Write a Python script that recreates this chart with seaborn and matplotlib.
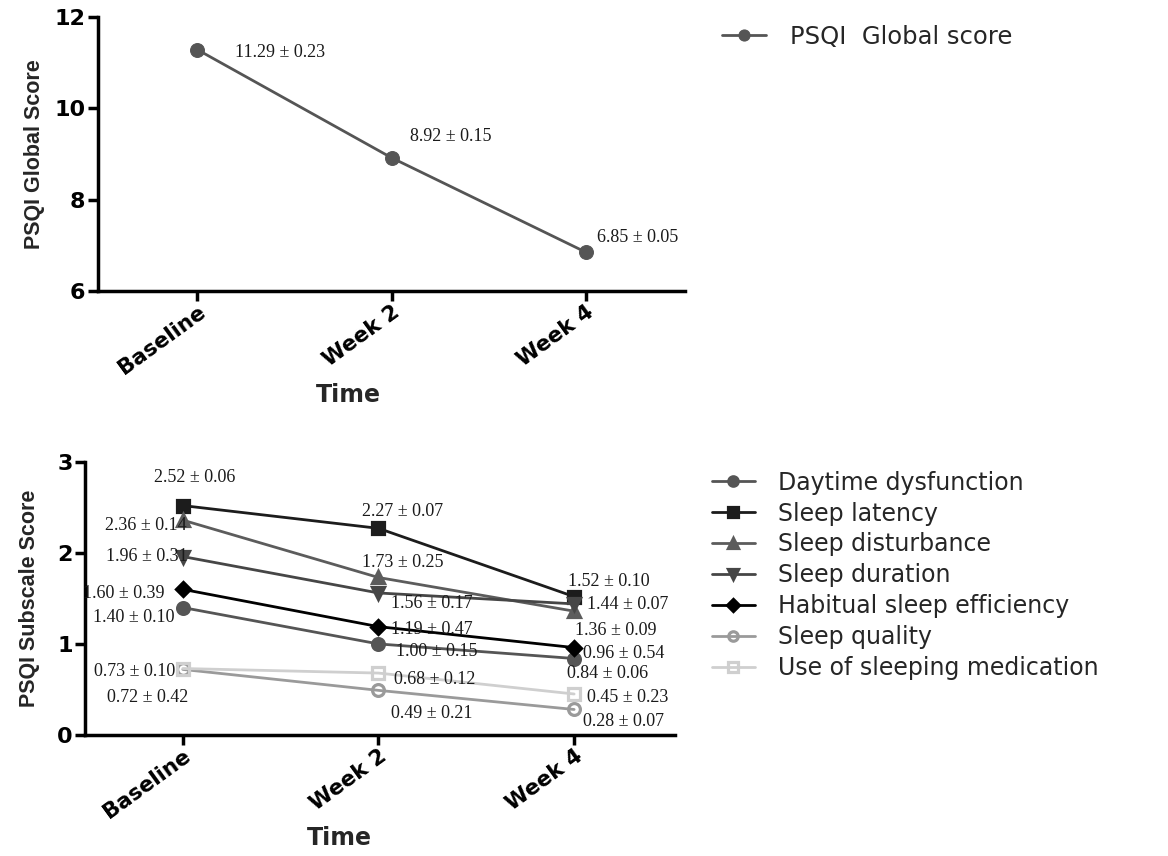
import numpy as np
import pandas as pd
import seaborn as sns
import matplotlib.pyplot as plt

times = ['Baseline', 'Week 2', 'Week 4']

# PSQI global score (mean, sd)
global_mean = [11.29, 8.92, 6.85]
global_sd = [0.23, 0.15, 0.05]

# subscale scores (mean, sd)
items = ['Daytime dysfunction', 'Sleep latency', 'Sleep disturbance', 'Sleep duration',
         'Habitual sleep efficiency', 'Sleep quality', 'Use of sleeping medication']
daytime = [1.40, 1.00, 0.84]
daytime_sd = [0.10, 0.15, 0.06]
latency = [2.52, 2.27, 1.52]
latency_sd = [0.06, 0.07, 0.10]
disturbance = [2.36, 1.73, 1.36]
disturbance_sd = [0.14, 0.25, 0.09]
duration = [1.96, 1.56, 1.44]
duration_sd = [0.31, 0.17, 0.07]
efficiency = [1.60, 1.19, 0.96]
efficiency_sd = [0.39, 0.47, 0.54]
quality = [0.72, 0.49, 0.28]
quality_sd = [0.42, 0.21, 0.07]
medication = [0.73, 0.68, 0.45]
medication_sd = [0.10, 0.12, 0.23]

means = [daytime, latency, disturbance, duration, efficiency, quality, medication]
sds = [daytime_sd, latency_sd, disturbance_sd, duration_sd, efficiency_sd, quality_sd, medication_sd]

# line styles: colour, marker, filled
styles = [('#555555', 'o', True), ('#1c1c1c', 's', True), ('#5c5c5c', '^', True),
          ('#464646', 'v', True), ('#000000', 'D', True), ('#9a9a9a', 'o', False),
          ('#cfcfcf', 's', False)]

# label placement in pixels relative to the point: (dx, dy, ha)
global_offsets = [(38, -3, 'left'), (18, 21, 'left'), (11, 15, 'left')]
sub_offsets = [
    [(-8, -10, 'right'), (18, -8, 'left'), (-7, -15, 'left')],
    [(12, 28, 'center'), (-16, 17, 'left'), (-6, 15, 'left')],
    [(4, -5, 'right'), (-16, 15, 'left'), (1, -19, 'left')],
    [(5, 0, 'right'), (13, -11, 'left'), (13, -1, 'left')],
    [(-18, -4, 'right'), (13, -3, 'left'), (9, -6, 'left')],
    [(5, -28, 'right'), (13, -23, 'left'), (9, -12, 'left')],
    [(-8, -3, 'right'), (16, -6, 'left'), (13, -3, 'left')],
]

sns.set_style('ticks')
plt.rcParams['font.family'] = ['DejaVu Sans']

fig = plt.figure(figsize=(11.68, 8.56), dpi=100)
ax1 = fig.add_axes([0.0839, 0.660, 0.5026, 0.320])
ax2 = fig.add_axes([0.0728, 0.1414, 0.505, 0.3190])

ann_font = dict(family='Liberation Serif', size=13, color='#1a1a1a')

# Global score
sns.lineplot(x=times, y=global_mean, ax=ax1, color='#555555', marker='o', markersize=10,
             markeredgecolor='#555555', linewidth=2.0, label='PSQI  Global score')
for i, (m, s) in enumerate(zip(global_mean, global_sd)):
    dx, dy, ha = global_offsets[i]
    ax1.annotate(f'{m:.2f} ± {s:.2f}', xy=(i, m), xytext=(dx, dy), textcoords='offset pixels',
                 ha=ha, va='center', **ann_font)
ax1.set_ylim(6, 12)
ax1.set_yticks([6, 8, 10, 12])
ax1.set_xlim(-0.51, 2.51)
ax1.set_ylabel('PSQI Global Score', fontsize=15.5, fontweight='bold', family='Liberation Sans')
ax1.yaxis.set_label_coords(-0.09, 0.5)
ax1.set_xlabel('Time', fontsize=17, fontweight='bold')
ax1.xaxis.set_label_coords(0.426, -0.335)
ax1.legend(loc='center left', bbox_to_anchor=(0.618, 0.957), bbox_transform=fig.transFigure,
           frameon=False, fontsize=17.5, handlelength=1.8, handletextpad=1.0, markerscale=0.8,
           borderpad=0, borderaxespad=0)

# Subscales
for name, vals, sd, (c, mk, filled), offs in zip(items, means, sds, styles, sub_offsets):
    sns.lineplot(x=times, y=vals, ax=ax2, color=c, marker=mk,
                 markersize=7.5 if mk == 'D' else 8.5,
                 markerfacecolor=c if filled else 'none', markeredgecolor=c,
                 markeredgewidth=2.3, linewidth=2.0, label=name)
    for i, (m, s) in enumerate(zip(vals, sd)):
        dx, dy, ha = offs[i]
        ax2.annotate(f'{m:.2f} ± {s:.2f}', xy=(i, m), xytext=(dx, dy), textcoords='offset pixels',
                     ha=ha, va='center', **ann_font)
ax2.set_ylim(0, 3)
ax2.set_yticks([0, 1, 2, 3])
ax2.set_xlim(-0.5, 2.515)
ax2.set_ylabel('PSQI Subscale Score', fontsize=15.5, fontweight='bold', family='Liberation Sans')
ax2.yaxis.set_label_coords(-0.076, 0.5)
ax2.set_xlabel('Time', fontsize=17, fontweight='bold')
ax2.xaxis.set_label_coords(0.432, -0.335)
ax2.legend(loc='center left', bbox_to_anchor=(0.6096, 0.328), bbox_transform=fig.transFigure,
           frameon=False, fontsize=17, handlelength=1.8, handletextpad=1.0, markerscale=0.8,
           labelspacing=0.29, borderpad=0, borderaxespad=0)

for ax in (ax1, ax2):
    sns.despine(ax=ax)
    for sp in ('left', 'bottom'):
        ax.spines[sp].set_linewidth(2.5)
        ax.spines[sp].set_color('black')
    ax.tick_params(axis='both', direction='out', length=7, width=2.5, colors='black')
    ax.tick_params(axis='y', labelsize=16, pad=2)
    ax.tick_params(axis='x', labelsize=15.5, pad=1)
    for lab in ax.get_yticklabels():
        lab.set_fontweight('bold')
    for lab in ax.get_xticklabels():
        lab.set_fontweight('bold')
        lab.set_rotation(36)
        lab.set_ha('right')
        lab.set_rotation_mode('anchor')

plt.savefig('out.png', dpi=100)
